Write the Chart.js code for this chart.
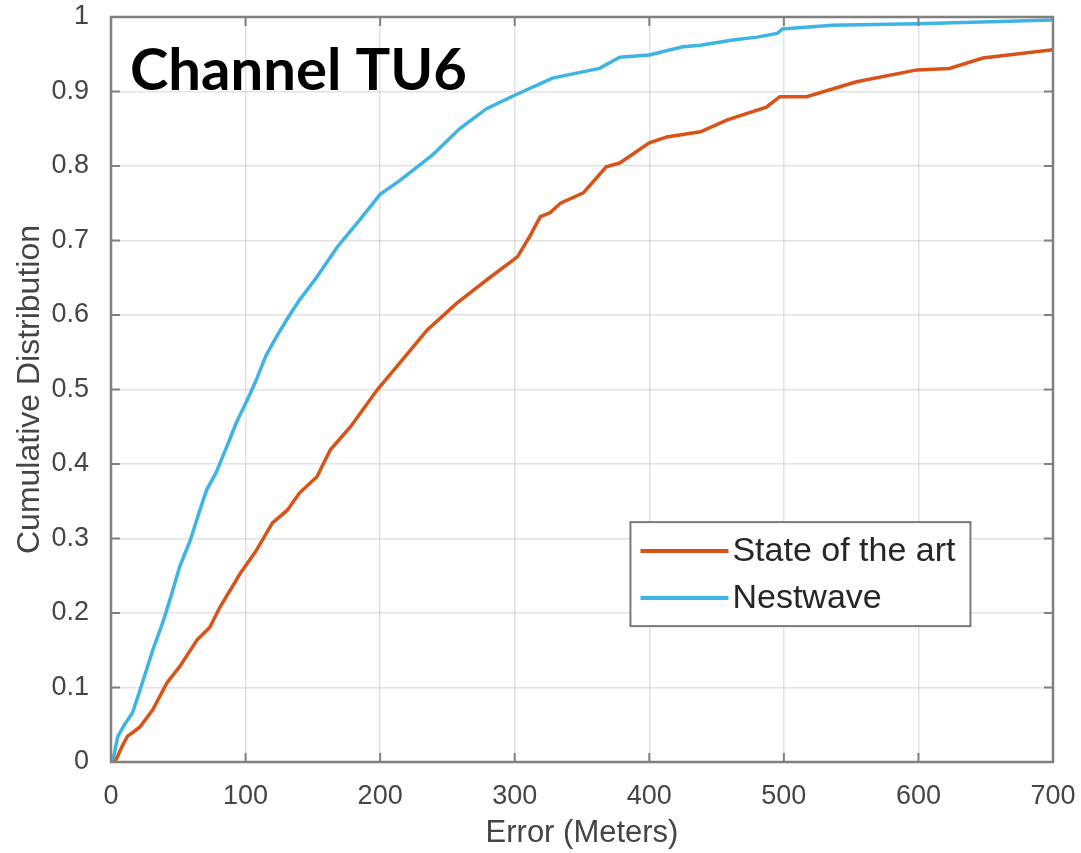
<!DOCTYPE html>
<html>
<head>
<meta charset="utf-8">
<script src="https://cdn.jsdelivr.net/npm/chart.js@4/dist/chart.umd.min.js"></script>
<style>
  html, body { margin: 0; padding: 0; background: #ffffff; }
  canvas { display: block; }
</style>
</head>
<body>
<canvas id="c" width="1081" height="853"></canvas>
<script>
// ---- data ----
const chartTitle = "Channel TU6";
const xAxisTitle = "Error (Meters)";
const yAxisTitle = "Cumulative Distribution";
const seriesNames = ["State of the art", "Nestwave"];

const stateX = [0, 3, 8, 12, 21.5, 31, 41.5, 51, 64, 73.5, 81, 96, 103, 108, 120, 131, 140, 153, 163, 178, 198, 212, 235, 257, 282, 302, 311, 319, 326, 334, 351, 368, 378, 400, 413, 438, 458, 487, 497, 517, 554, 599, 623, 648, 700];
const stateY = [0, 0, 0.02, 0.034, 0.047, 0.07, 0.106, 0.128, 0.164, 0.181, 0.208, 0.253, 0.271, 0.284, 0.321, 0.338, 0.361, 0.383, 0.419, 0.45, 0.5, 0.53, 0.58, 0.616, 0.651, 0.678, 0.705, 0.732, 0.737, 0.75, 0.764, 0.799, 0.804, 0.831, 0.839, 0.846, 0.862, 0.879, 0.893, 0.893, 0.913, 0.929, 0.931, 0.945, 0.956];

const nestX = [0, 1.5, 5, 10, 16, 24, 31, 39, 45, 51, 59, 66, 71, 78, 86, 93, 101, 108, 115, 123, 131, 140, 153, 168, 185, 200, 215, 239, 259, 279, 300, 328, 363, 378, 400, 425, 438, 462, 480, 495, 499, 536, 599, 660, 700];
const nestY = [0, 0.003, 0.034, 0.05, 0.066, 0.11, 0.15, 0.19, 0.225, 0.262, 0.298, 0.338, 0.365, 0.388, 0.423, 0.455, 0.485, 0.513, 0.545, 0.571, 0.595, 0.62, 0.651, 0.691, 0.728, 0.762, 0.781, 0.815, 0.85, 0.877, 0.895, 0.918, 0.931, 0.946, 0.949, 0.96, 0.962, 0.969, 0.973, 0.978, 0.984, 0.989, 0.991, 0.994, 0.996];

const xTicks = [0, 100, 200, 300, 400, 500, 600, 700];
const yTicks = [0, 0.1, 0.2, 0.3, 0.4, 0.5, 0.6, 0.7, 0.8, 0.9, 1];
const xTickLabels = ["0", "100", "200", "300", "400", "500", "600", "700"];
const yTickLabels = ["0", "0.1", "0.2", "0.3", "0.4", "0.5", "0.6", "0.7", "0.8", "0.9", "1"];

const seriesColors = ["#D95319", "#3DB4E5"];

// ---- helpers ----
const toPoints = (xs, ys) => xs.map((v, i) => ({ x: v, y: ys[i] }));
const FONT = "'Liberation Sans', Arial, sans-serif";

const matlabFrame = {
  id: 'matlabFrame',
  afterDatasetsDraw(chart) {
    const { ctx, chartArea: a, scales: { x, y } } = chart;
    ctx.save();
    // box
    ctx.strokeStyle = '#808080';
    ctx.lineWidth = 2.5;
    ctx.strokeRect(a.left, a.top, a.right - a.left, a.bottom - a.top);
    // inward ticks on all four sides
    const L = 9;
    ctx.lineWidth = 2;
    ctx.beginPath();
    x.ticks.forEach(t => {
      const px = x.getPixelForValue(t.value);
      ctx.moveTo(px, a.bottom); ctx.lineTo(px, a.bottom - L);
      ctx.moveTo(px, a.top); ctx.lineTo(px, a.top + L);
    });
    y.ticks.forEach(t => {
      const py = y.getPixelForValue(t.value);
      ctx.moveTo(a.left, py); ctx.lineTo(a.left + L, py);
      ctx.moveTo(a.right, py); ctx.lineTo(a.right - L, py);
    });
    ctx.stroke();

    // big title inside plot
    ctx.fillStyle = '#000000';
    ctx.font = "bold 58px Lato, 'Open Sans', sans-serif";
    ctx.textBaseline = 'alphabetic';
    ctx.textAlign = 'left';
    ctx.fillText(chartTitle, a.left + 19, a.top + 73);

    // legend box
    const bx = x.getPixelForValue(386), bw = 340;
    const by = y.getPixelForValue(0.322), bh = 104;
    ctx.fillStyle = '#ffffff';
    ctx.fillRect(bx, by, bw, bh);
    ctx.strokeStyle = '#7a7a7a';
    ctx.lineWidth = 2;
    ctx.strokeRect(bx, by, bw, bh);
    ctx.font = "34px " + FONT;
    ctx.textBaseline = 'middle';
    chart.data.datasets.forEach((ds, i) => {
      const ly = by + 29 + i * 47;
      ctx.strokeStyle = ds.borderColor;
      ctx.lineWidth = 4;
      ctx.beginPath();
      ctx.moveTo(bx + 10, ly); ctx.lineTo(bx + 98, ly);
      ctx.stroke();
      ctx.fillStyle = '#262626';
      ctx.fillText(ds.label, bx + 102, ly + 1);
    });
    ctx.restore();
  }
};

new Chart(document.getElementById('c'), {
  type: 'line',
  data: {
    datasets: [
      { label: seriesNames[0], data: toPoints(stateX, stateY), borderColor: seriesColors[0], backgroundColor: seriesColors[0], borderWidth: 3.5, pointRadius: 0, tension: 0, fill: false },
      { label: seriesNames[1], data: toPoints(nestX, nestY), borderColor: seriesColors[1], backgroundColor: seriesColors[1], borderWidth: 3.5, pointRadius: 0, tension: 0, fill: false }
    ]
  },
  options: {
    responsive: false,
    animation: false,
    events: [],
    layout: { padding: { left: 0, top: 17, right: 28, bottom: 0 } },
    plugins: { legend: { display: false }, tooltip: { enabled: false }, title: { display: false } },
    scales: {
      x: {
        type: 'linear', min: 0, max: 700,
        afterBuildTicks: s => { s.ticks = xTicks.map(v => ({ value: v })); },
        afterFit: s => { s.height = 91; s.paddingLeft = 0; s.paddingRight = 0; },
        ticks: {
          callback: (v) => xTickLabels[xTicks.indexOf(v)],
          font: { family: FONT, size: 27 }, color: '#454545', padding: 18, maxRotation: 0
        },
        grid: { color: 'rgba(0,0,0,0.11)', lineWidth: 1.5, drawTicks: false },
        border: { display: false },
        title: { display: true, text: xAxisTitle, font: { family: FONT, size: 31 }, color: '#454545', padding: { top: 0, bottom: 1 } }
      },
      y: {
        type: 'linear', min: 0, max: 1,
        afterBuildTicks: s => { s.ticks = yTicks.map(v => ({ value: v })); },
        afterFit: s => { s.width = 111; s.paddingTop = 0; s.paddingBottom = 0; },
        ticks: {
          callback: (v) => yTickLabels[yTicks.findIndex(t => Math.abs(t - v) < 1e-9)],
          font: { family: FONT, size: 27 }, color: '#454545', padding: 22
        },
        grid: { color: 'rgba(0,0,0,0.11)', lineWidth: 1.5, drawTicks: false },
        border: { display: false },
        title: { display: true, text: yAxisTitle, font: { family: FONT, size: 32 }, color: '#454545', padding: { top: 11, bottom: 0 } }
      }
    }
  },
  plugins: [matlabFrame]
});
</script>
</body>
</html>
